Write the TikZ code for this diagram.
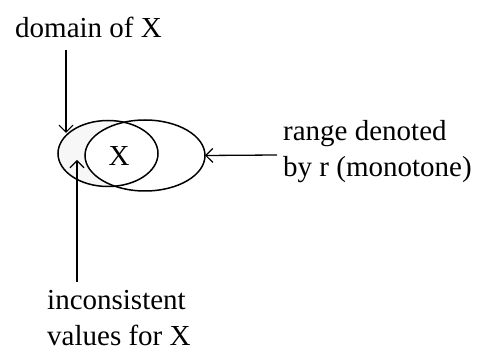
\documentclass[tikz,border=0pt]{standalone}
\usepackage{fontspec}
\setmainfont{Liberation Serif}
\usetikzlibrary{arrows.meta,shapes.geometric}
\begin{document}
\begin{tikzpicture}[x=1pt,y=-1pt,
  lbl/.style={inner sep=0pt, font=\fontsize{29}{36}\selectfont, align=left, anchor=base west},
  arr/.style={line width=1.3pt, -{Straight Barb[length=7pt,width=14pt,line width=1.2pt]}},
  venn/.style={ellipse, draw, line width=1.5pt, inner sep=0pt, outer sep=0pt}]
\useasboundingbox (0,0) rectangle (480,350);
% light shading of the part of the domain outside the range
\begin{scope}
  \clip (108,153.5) ellipse [x radius=50pt, y radius=33pt];
  \fill[black!3, even odd rule] (108,153.5) ellipse [x radius=50pt, y radius=33pt]
                                (145,155.5) ellipse [x radius=60pt, y radius=35.5pt];
\end{scope}
\node[venn, minimum width=100pt, minimum height=66pt] (dom) at (108,153.5) {};
\node[venn, minimum width=120pt, minimum height=71pt] (rng) at (145,155.5) {};
\node[inner sep=0pt, font=\fontsize{29}{36}\selectfont] (x) at (119,156) {X};
% labels (base anchor = baseline of the last line)
\node[lbl] (domlbl) at (15,38) {domain of X};
\node[lbl] (rnglbl) at (283,177) {range denoted\\by r (monotone)};
\node[lbl] (inclbl) at (47,345) {inconsistent\\values for X};
% arrow end points
\coordinate (a1s) at (66,50);
\coordinate (a1e) at (66,133);
\coordinate (a2s) at (277,155);
\coordinate (a3s) at (77,282);
\coordinate (a3e) at (77,160);
\draw[arr] (a1s) -- (a1e);
\draw[arr] (a2s) -- (rng.east);
\draw[arr] (a3s) -- (a3e);
\end{tikzpicture}
\end{document}
